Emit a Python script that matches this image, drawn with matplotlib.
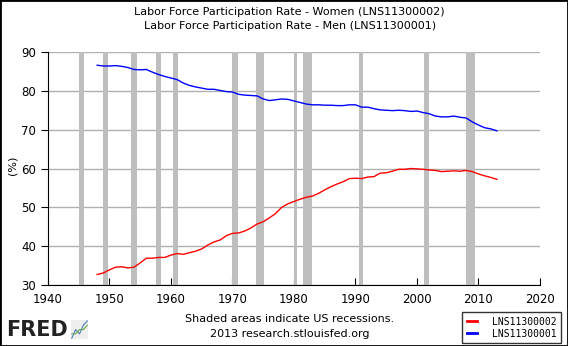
import numpy as np
from matplotlib import pyplot as plt
from matplotlib.patches import Rectangle

years = np.arange(1948, 2014)
women = [32.7, 33.1, 33.9, 34.6, 34.7, 34.4, 34.6, 35.7, 36.9, 36.9,
         37.1, 37.1, 37.7, 38.1, 37.9, 38.3, 38.7, 39.3, 40.3, 41.1,
         41.6, 42.7, 43.3, 43.4, 43.9, 44.7, 45.7, 46.3, 47.3, 48.4,
         50.0, 50.9, 51.5, 52.1, 52.6, 52.9, 53.6, 54.5, 55.3, 56.0,
         56.6, 57.4, 57.5, 57.4, 57.8, 57.9, 58.8, 58.9, 59.3, 59.8,
         59.8, 60.0, 59.9, 59.8, 59.6, 59.5, 59.2, 59.3, 59.4, 59.3,
         59.5, 59.2, 58.6, 58.1, 57.7, 57.2]
men = [86.6, 86.4, 86.4, 86.5, 86.3, 86.0, 85.5, 85.4, 85.5, 84.8,
       84.2, 83.7, 83.3, 82.9, 82.0, 81.4, 81.0, 80.7, 80.4, 80.4,
       80.1, 79.8, 79.7, 79.1, 78.9, 78.8, 78.7, 77.9, 77.5, 77.7,
       77.9, 77.8, 77.4, 77.0, 76.6, 76.4, 76.4, 76.3, 76.3, 76.2,
       76.2, 76.4, 76.4, 75.8, 75.8, 75.4, 75.1, 75.0, 74.9, 75.0,
       74.9, 74.7, 74.8, 74.4, 74.1, 73.5, 73.3, 73.3, 73.5, 73.2,
       73.0, 72.0, 71.2, 70.5, 70.2, 69.7]

# NBER recessions (start, end) in decimal years
rec_start = [1945.1, 1948.9, 1953.5, 1957.6, 1960.3, 1969.9, 1973.9, 1980.0, 1981.5, 1990.5, 2001.2, 2007.9]
rec_end = [1945.8, 1949.8, 1954.4, 1958.3, 1961.1, 1970.9, 1975.2, 1980.5, 1982.9, 1991.2, 2001.9, 2009.5]

xticks = np.arange(1940, 2021, 10)
yticks = np.arange(30, 91, 10)

fig = plt.figure(figsize=(5.68, 3.46), dpi=100)
fig.patches.append(Rectangle((0, 0), 1, 1, transform=fig.transFigure,
                             fill=False, edgecolor='black', linewidth=2))
ax = fig.add_axes([0.0845, 0.1763, 0.8662, 0.6734])

for s, e in zip(rec_start, rec_end):
    ax.axvspan(s, e, color='#bebebe', lw=0, zorder=1)

ax.plot(years, women, color='red', lw=1.0, zorder=3)
ax.plot(years, men, color='blue', lw=1.0, zorder=3)

ax.set_xlim(1940, 2020)
ax.set_ylim(30, 90)
ax.set_xticks(xticks)
ax.set_yticks(yticks)
ax.yaxis.grid(True, color='#b0b0b0', lw=1)
ax.set_axisbelow(True)
for sp in ['top', 'right']:
    ax.spines[sp].set_visible(False)
ax.tick_params(axis='x', direction='in', length=5, labelsize=8.5, pad=6)
ax.tick_params(axis='y', direction='out', length=5, labelsize=8.5)
ax.set_ylabel('(%)', fontsize=8)
ax.yaxis.set_label_coords(-0.061, 0.515)

fig.text(0.51, 0.965, 'Labor Force Participation Rate - Women (LNS11300002)',
         ha='center', va='center', fontsize=8)
fig.text(0.51, 0.925, 'Labor Force Participation Rate - Men (LNS11300001)',
         ha='center', va='center', fontsize=8)
fig.text(0.51, 0.078, 'Shaded areas indicate US recessions.',
         ha='center', va='center', fontsize=8)
fig.text(0.51, 0.035, '2013 research.stlouisfed.org',
         ha='center', va='center', fontsize=8)

fig.text(0.011, 0.045, 'FRED', ha='left', va='center', fontsize=15,
         fontweight='bold', color='#222222')
icon = fig.add_axes([0.125, 0.02, 0.03, 0.055])
icon.plot([0, 1, 2, 3, 4], [0, 2, 1, 3, 4], color='#4a7fb5', lw=0.8)
icon.plot([0, 1, 2, 3, 4], [1, 1, 2, 2, 3], color='#6aa84f', lw=0.8)
icon.set_facecolor('#eeeeee')
icon.set_xticks([])
icon.set_yticks([])
for sp in icon.spines.values():
    sp.set_visible(False)

leg = fig.legend(handles=[plt.Line2D([], [], color='red', lw=2),
                          plt.Line2D([], [], color='blue', lw=2)],
                 labels=['LNS11300002', 'LNS11300001'],
                 loc='lower right', bbox_to_anchor=(0.993, 0.0),
                 prop={'family': 'DejaVu Sans Mono', 'size': 7},
                 frameon=True, fancybox=False, edgecolor='black',
                 handlelength=1.0, handletextpad=1.6, labelspacing=0.2,
                 borderpad=0.45, borderaxespad=0.3)
leg.get_frame().set_linewidth(1)

fig.savefig('out.png', dpi=100)
